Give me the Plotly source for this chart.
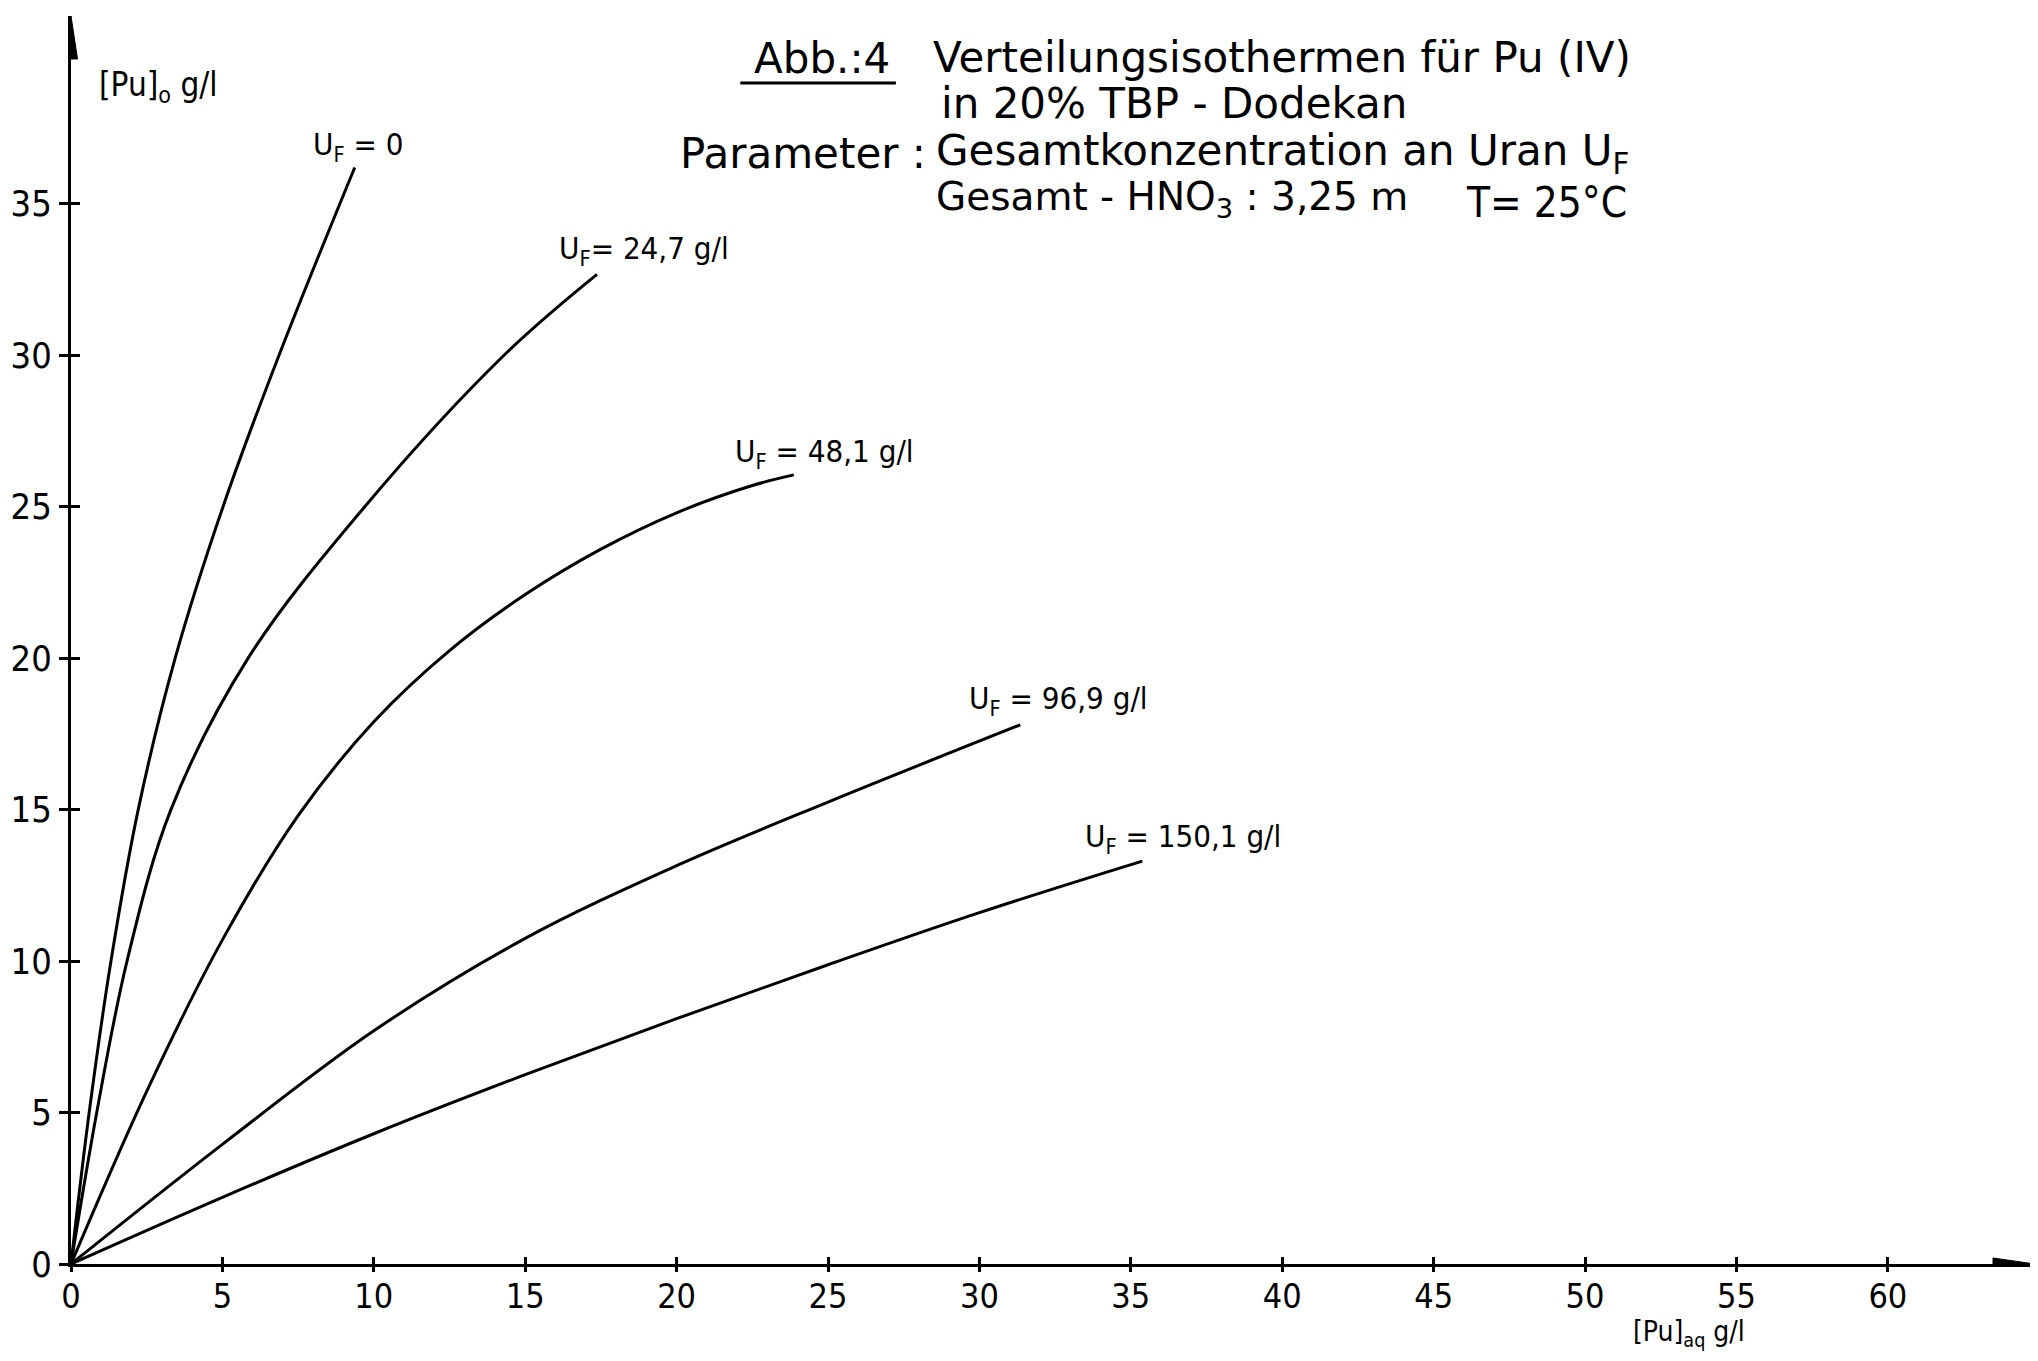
import plotly.graph_objects as go

# ---------------- data ----------------
x_uf0 = [0, 0.6, 1.32, 2.22, 3.44, 5.02, 6.87, 9.37]
y_uf0 = [0, 5, 10, 15, 20, 25, 30, 36.2]

x_uf247 = [0, 0.85, 1.85, 3.3, 5.85, 9.7, 14.3, 17.37]
y_uf247 = [0, 5, 10, 15, 20, 25, 30, 32.67]

x_uf481 = [0, 2.5, 5, 7.5, 10, 12.5, 15, 17.5, 20, 22.5, 23.87]
y_uf481 = [0, 5.7, 10.7, 14.8, 17.9, 20.25, 22.1, 23.6, 24.8, 25.7, 26.05]

x_uf969 = [0, 5, 10, 15, 20, 25, 31.35]
y_uf969 = [0, 3.95, 7.7, 10.75, 13.15, 15.25, 17.8]

x_uf1501 = [0, 5, 10, 15, 20, 25, 30, 35.38]
y_uf1501 = [0, 2.2, 4.3, 6.25, 8.1, 9.88, 11.6, 13.3]

series_labels = ["U<sub>F</sub> = 0", "U<sub>F</sub>= 24,7 g/l", "U<sub>F</sub> = 48,1 g/l",
                 "U<sub>F</sub> = 96,9 g/l", "U<sub>F</sub> = 150,1 g/l"]

x_ticks = list(range(0, 61, 5))
y_ticks = list(range(0, 36, 5))

# ---------------- layout constants ----------------
OFF = 8                      # default page margin around the plot div
W, H = 2030, 1345
ML, MR, MT, MB = 58, 3, 8, 89
XMAX, YMAX = 64.86, 41.2
PW, PH = W - ML - MR, H - MT - MB
COND = "DejaVu Sans Condensed, Liberation Sans Narrow, DejaVu Sans, sans-serif"
WIDE = "DejaVu Sans, Liberation Sans, sans-serif"


def px_x(px):
    return (px - OFF - ML) / PW


def px_y(py):
    return (H - MB - (py - OFF)) / PH


fig = go.Figure()
series = [(x_uf0, y_uf0), (x_uf247, y_uf247), (x_uf481, y_uf481),
          (x_uf969, y_uf969), (x_uf1501, y_uf1501)]
for (xs, ys), name in zip(series, series_labels):
    fig.add_trace(go.Scatter(x=xs, y=ys, mode="lines", name=name,
                             line=dict(color="black", width=3, shape="spline", smoothing=1.0),
                             showlegend=False, hoverinfo="skip"))

# invisible trace to drive the overlay axes (for crossing ticks)
fig.add_trace(go.Scatter(x=[], y=[], xaxis="x2", yaxis="y2", showlegend=False))

fig.update_layout(
    width=W, height=H,
    margin=dict(l=ML, r=MR, t=MT, b=MB),
    paper_bgcolor="white", plot_bgcolor="white",
    font=dict(family=COND, color="black", size=30),
    xaxis=dict(range=[0, XMAX], tickvals=x_ticks, ticks="inside", ticklen=7,
               showline=True, linecolor="black", linewidth=3,
               showgrid=False, zeroline=False, tickcolor="black", tickwidth=2.5,
               tickfont=dict(size=34, family=COND, color="black")),
    yaxis=dict(range=[0, YMAX], tickvals=y_ticks, ticks="outside", ticklen=9,
               showline=True, linecolor="black", linewidth=3,
               showgrid=False, zeroline=False, tickcolor="black", tickwidth=2.5,
               tickfont=dict(size=36, family=COND, color="black")),
    xaxis2=dict(range=[0, XMAX], tickvals=x_ticks, ticks="outside", ticklen=7,
                overlaying="x", anchor="y2", side="bottom", showticklabels=False,
                showline=False, showgrid=False, zeroline=False, tickcolor="black", tickwidth=2.5),
    yaxis2=dict(range=[0, YMAX], tickvals=y_ticks, ticks="inside", ticklen=9,
                overlaying="y", anchor="x2", side="left", showticklabels=False,
                showline=False, showgrid=False, zeroline=False, tickcolor="black", tickwidth=2.5),
)

# arrow heads at axis ends
fig.add_shape(type="path", xref="x", yref="y", xsizemode="pixel", ysizemode="pixel",
              xanchor=XMAX, yanchor=0, path="M0,0 L-42,6 L-42,-6 Z",
              fillcolor="black", line=dict(color="black", width=1))
fig.add_shape(type="path", xref="x", yref="y", xsizemode="pixel", ysizemode="pixel",
              xanchor=0, yanchor=YMAX, path="M0,0 L-6.5,-43 L6.5,-43 Z",
              fillcolor="black", line=dict(color="black", width=1))


def label(px, py, txt, size, family=COND, anchor="center"):
    fig.add_annotation(x=px_x(px), y=px_y(py), xref="paper", yref="paper", text=txt,
                       showarrow=False, xanchor=anchor, yanchor="middle",
                       font=dict(size=size, family=family, color="black"))


# curve labels (page-pixel centres)
label_px = [(354, 147), (640, 250), (821, 453), (1056, 700), (1181, 838)]
for (px, py), txt in zip(label_px, series_labels):
    label(px, py, txt, 31)

# axis titles
label(92, 86, "[Pu]<sub>o</sub> g/l", 33, anchor="left")
label(1630, 1333, "[Pu]<sub>aq</sub> g/l", 28, anchor="left")

# title block
TF = 42
label(819, 59, "Abb.:4", TF, WIDE)
fig.add_shape(type="line", xref="paper", yref="paper", x0=px_x(737), x1=px_x(893),
              y0=px_y(83), y1=px_y(83), line=dict(color="black", width=3))
label(928, 58, "Verteilungsisothermen für Pu (IV)", TF, WIDE, "left")
label(936, 104, "in 20% TBP - Dodekan", TF, WIDE, "left")
label(925, 153, "Parameter :", TF, WIDE, "right")
label(931, 153, "Gesamtkonzentration an Uran U<sub>F</sub>", TF, WIDE, "left")
label(931, 199, "Gesamt - HNO<sub>3</sub> : 3,25 m", 39, WIDE, "left")
label(1628, 202, "T= 25°C", TF, COND, "right")

fig.write_html("out.html")
